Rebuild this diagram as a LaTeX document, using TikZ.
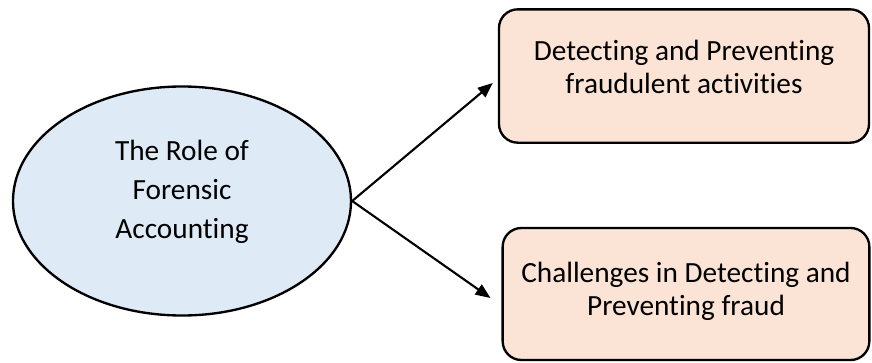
\documentclass[tikz,border=0pt]{standalone}
\usepackage{fontspec}
\setmainfont[Ligatures={NoCommon}]{Carlito}
\usepackage{tikz}
\usetikzlibrary{arrows.meta,shapes.geometric,positioning}
\definecolor{rolefill}{HTML}{DEEBF7}
\definecolor{topicfill}{HTML}{FBE4D5}
\tikzset{
  rolenode/.style={
    ellipse, draw=black, line width=2pt,
    fill=rolefill,
    minimum width=10.14cm, minimum height=6.87cm
  },
  topicbox/.style={
    rectangle, rounded corners=16pt,
    draw=black, line width=2pt,
    fill=topicfill,
    minimum width=11.1cm, minimum height=4.0cm
  },
  lbl/.style={
    font=\fontsize{25}{28}\selectfont,
    align=center, inner sep=0pt
  },
  arr/.style={-{Triangle[length=0.45cm,width=0.36cm]}, line width=1.8pt},
}

\begin{document}
\begin{tikzpicture}[x=0.03cm, y=-0.03cm]

  % -- frame of the picture -----------------------------------------------------
  \useasboundingbox (0,0) rectangle (872,362);

  % -- central ellipse ------------------------------------------------------------
  \node[rolenode] (role) at (182,201) {};
  \node[lbl, font=\fontsize{25}{33}\selectfont] (roletxt) at (182,192)
    {The Role of\\Forensic\\Accounting};

  % -- topics --------------------------------------------------------------------
  \node[topicbox] (detect) at (684,76) {};
  \node[lbl] (detecttxt) at (684,67)
    {Detecting and Preventing\\fraudulent activities};

  \node[topicbox, minimum width=11.0cm, minimum height=3.96cm]
    (chall) at (686,294) {};
  \node[lbl] (challtxt) at (686,291)
    {Challenges in Detecting and\\Preventing fraud};

  % -- arrows --------------------------------------------------------------------
  \draw[arr] (role.east) -- ([xshift=-0.15cm, yshift=-0.21cm]detect.west);
  \draw[arr] (role.east) -- ([xshift=-0.33cm, yshift=-0.12cm]chall.west);

\end{tikzpicture}
\end{document}
